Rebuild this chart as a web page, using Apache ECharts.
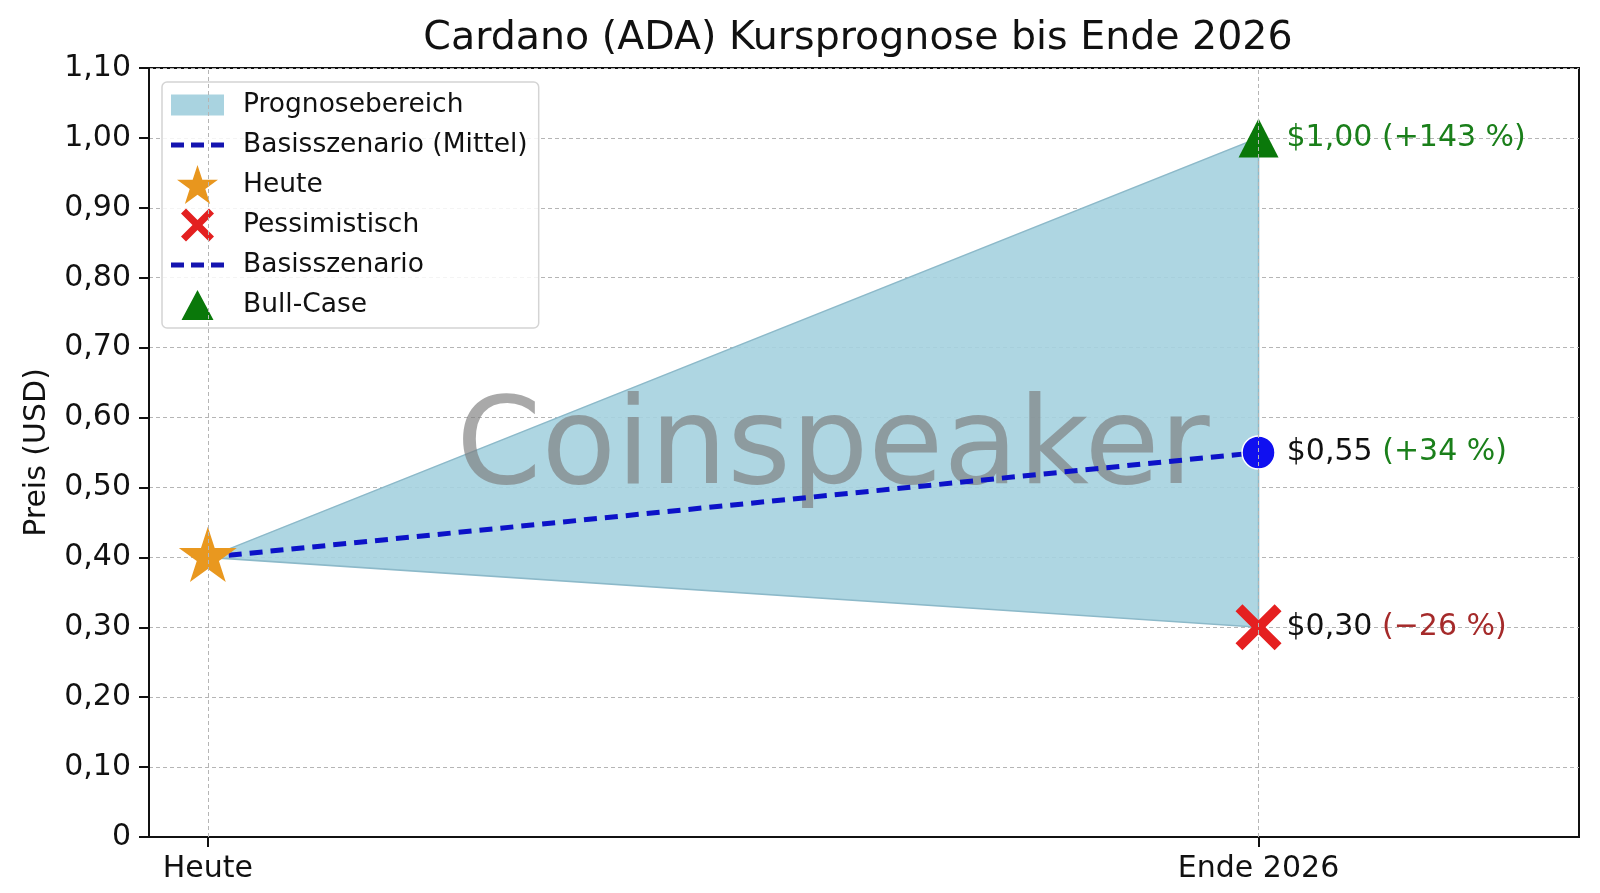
<!DOCTYPE html>
<html>
<head>
<meta charset="utf-8">
<title>Cardano (ADA) Kursprognose bis Ende 2026</title>
<script src="https://cdn.jsdelivr.net/npm/echarts@6/dist/echarts.min.js"></script>
<style>
  html, body { margin: 0; padding: 0; background: #fff; }
  #main { width: 1600px; height: 893px; }
</style>
</head>
<body>
<div id="main"></div>
<script>
// data
const categories = ['Heute', 'Ende 2026'];
const rangeLow = [0.40, 0.30];
const rangeHigh = [0.40, 1.00];
const baseCase = [0.40, 0.55];
const todayPrice = 0.40;
const scenarioNames = ['Pessimistisch', 'Basisszenario', 'Bull-Case'];
const scenarioPrices = [0.30, 0.55, 1.00];
const scenarioChanges = ['−26 %', '+34 %', '+143 %'];

const FONT = 'DejaVu Sans';
const GREEN = '#1a7f1a';

// symbol helpers (shapes only)
function starPath(cx, cy, R) {
  const r = R * 0.382;
  let d = '';
  for (let k = 0; k < 10; k++) {
    const a = (-90 + k * 36) * Math.PI / 180;
    const rad = k % 2 ? r : R;
    d += (k ? 'L' : 'M') + (cx + rad * Math.cos(a)).toFixed(2) + ',' + (cy + rad * Math.sin(a)).toFixed(2);
  }
  return d + 'Z';
}
function crossPath(cx, cy, h, t) {
  const p = [[-h + t, -h], [0, -t], [h - t, -h], [h, -h + t], [t, 0], [h, h - t],
             [h - t, h], [0, t], [-h + t, h], [-h, h - t], [-t, 0], [-h, -h + t]];
  return 'M' + p.map(q => (cx + q[0]).toFixed(2) + ',' + (cy + q[1]).toFixed(2)).join('L') + 'Z';
}
// tiny corner dots fix the bounding box of a path
function box(w, h) {
  return 'M0,0h0.01v0.01h-0.01Z M' + w + ',' + h + 'h-0.01v-0.01h0.01Z ';
}

const LW = 53, LH = 40;
const iconArea = 'path://' + box(LW, LH) + 'M0,9.5h53v21h-53Z';
const iconDash = 'path://' + box(LW, LH) + 'M0,17.5h13v5h-13Z M20,17.5h13v5h-13Z M40,17.5h13v5h-13Z';
const iconStar = 'path://' + box(LW, LH) + starPath(26.5, 21.5, 21.5);
const iconCross = 'path://' + box(LW, LH) + crossPath(26.5, 20, 16.5, 5);
const iconTri = 'path://' + box(LW, LH) + 'M26.5,5L42.5,35L10.5,35Z';

const symStar = 'path://' + 'M50,100h0.01v0.01h-0.01Z ' + starPath(50, 50, 50);
const symCross = 'path://' + crossPath(10, 10, 10, 3);

const priceText = p => '$' + p.toFixed(2).replace('.', ',');

const myChart = echarts.init(document.getElementById('main'));

myChart.setOption({
  animation: false,
  backgroundColor: '#fff',
  textStyle: { fontFamily: FONT },
  title: {
    text: 'Cardano (ADA) Kursprognose bis Ende 2026',
    left: 853,
    top: 14,
    textAlign: 'center',
    textStyle: { fontFamily: FONT, fontSize: 39.5, fontWeight: 'normal', color: '#111' }
  },
  grid: {
    left: 149, right: 21, top: 68, bottom: 56,
    show: true, borderColor: '#111', borderWidth: 2
  },
  legend: {
    orient: 'vertical',
    left: 162, top: 82,
    itemWidth: LW, itemHeight: LH, itemGap: 0,
    padding: [3, 11, 3, 9],
    backgroundColor: 'rgba(255,255,255,0.85)',
    borderColor: '#d4d4d4', borderWidth: 1.5, borderRadius: 5,
    textStyle: { fontFamily: FONT, fontSize: 26.5, color: '#111', padding: [0, 0, 0, 14] },
    selectedMode: false,
    data: [
      { name: 'Prognosebereich', icon: iconArea, itemStyle: { color: '#a9d3e0', borderWidth: 0 } },
      { name: 'Basisszenario (Mittel)', icon: iconDash, itemStyle: { color: '#1414b0', borderWidth: 0 } },
      { name: 'Heute', icon: iconStar, itemStyle: { color: '#E8961E', borderWidth: 0 } },
      { name: 'Pessimistisch', icon: iconCross, itemStyle: { color: '#E32020', borderWidth: 0 } },
      { name: 'Basisszenario', icon: iconDash, itemStyle: { color: '#1414b0', borderWidth: 0 } },
      { name: 'Bull-Case', icon: iconTri, itemStyle: { color: '#0A780A', borderWidth: 0 } }
    ]
  },
  graphic: [{
    type: 'text',
    x: 833, y: 451, z: 2,
    silent: true,
    style: {
      text: 'Coinspeaker',
      font: '122px "DejaVu Sans"',
      fill: 'rgba(125,125,125,0.66)',
      align: 'center',
      verticalAlign: 'middle'
    }
  }],
  xAxis: {
    type: 'value',
    min: -0.056, max: 1.305,
    axisLine: { onZero: false, lineStyle: { color: '#111', width: 2 } },
    axisTick: { customValues: [0, 1], length: 10, lineStyle: { color: '#111', width: 2 } },
    axisLabel: {
      customValues: [0, 1],
      formatter: v => categories[Math.round(v)],
      fontFamily: FONT, fontSize: 30, color: '#111', margin: 17
    },
    splitLine: { show: false }
  },
  yAxis: {
    type: 'value',
    min: 0, max: 1.1, interval: 0.1,
    name: 'Preis (USD)',
    nameLocation: 'middle',
    nameGap: 97,
    nameTextStyle: { fontFamily: FONT, fontSize: 30, color: '#111' },
    axisLine: { show: true, onZero: false, lineStyle: { color: '#111', width: 2 } },
    axisTick: { show: true, length: 10, lineStyle: { color: '#111', width: 2 } },
    axisLabel: {
      formatter: v => v === 0 ? '0' : v.toFixed(2).replace('.', ','),
      fontFamily: FONT, fontSize: 30, color: '#111', margin: 18
    },
    splitLine: { show: true, lineStyle: { color: '#b5b5b5', width: 1, type: [4, 3] } }
  },
  series: [
    {
      type: 'custom',
      name: 'Prognosebereich',
      z: 1,
      itemStyle: { color: '#a9d3e0' },
      data: [[0, rangeLow[0]]],
      renderItem: (params, api) => {
        const pts = [];
        rangeHigh.forEach((v, i) => pts.push(api.coord([i, v])));
        for (let i = rangeLow.length - 1; i >= 0; i--) pts.push(api.coord([i, rangeLow[i]]));
        return {
          type: 'polygon',
          shape: { points: pts },
          style: { fill: 'rgba(165,209,223,0.9)', stroke: '#8cb9c9', lineWidth: 1.5 }
        };
      },
      markLine: {
        silent: true,
        symbol: 'none',
        label: { show: false },
        lineStyle: { color: '#b5b5b5', width: 1, type: [4, 3] },
        data: categories.map((c, i) => ({ xAxis: i }))
      }
    },
    {
      type: 'line',
      name: 'Basisszenario (Mittel)',
      z: 3,
      data: baseCase.map((v, i) => [i, v]),
      symbol: 'none',
      itemStyle: { color: '#0c12c8' },
      lineStyle: { color: '#0c12c8', width: 5, type: [13, 8] }
    },
    {
      type: 'scatter',
      name: 'Heute',
      z: 4,
      data: [[0, todayPrice]],
      symbol: symStar,
      symbolSize: [58, 61],
      itemStyle: { color: '#E9981F', opacity: 1 }
    },
    {
      type: 'scatter',
      name: scenarioNames[0],
      z: 4,
      data: [[1, scenarioPrices[0]]],
      symbol: symCross,
      symbolSize: 46,
      itemStyle: { color: '#E52020', opacity: 1 },
      label: {
        show: true, position: 'right', distance: 5,
        formatter: '{p|' + priceText(scenarioPrices[0]) + ' }{r|(' + scenarioChanges[0] + ')}',
        rich: {
          p: { fontFamily: FONT, fontSize: 30, color: '#111' },
          r: { fontFamily: FONT, fontSize: 30, color: '#a52a2a' }
        }
      }
    },
    {
      type: 'scatter',
      name: scenarioNames[1],
      z: 4,
      data: [[1, scenarioPrices[1]]],
      symbol: 'circle',
      symbolSize: 33,
      itemStyle: { color: '#1010F0', borderColor: '#fff', borderWidth: 1.5, opacity: 1 },
      label: {
        show: true, position: 'right', distance: 11,
        formatter: '{p|' + priceText(scenarioPrices[1]) + ' }{g|(' + scenarioChanges[1] + ')}',
        rich: {
          p: { fontFamily: FONT, fontSize: 30, color: '#111' },
          g: { fontFamily: FONT, fontSize: 30, color: GREEN }
        }
      }
    },
    {
      type: 'scatter',
      name: scenarioNames[2],
      z: 4,
      data: [[1, scenarioPrices[2]]],
      symbol: 'triangle',
      symbolSize: [40, 39],
      itemStyle: { color: '#0A780A', opacity: 1 },
      label: {
        show: true, position: 'right', distance: 8,
        formatter: '{g|' + priceText(scenarioPrices[2]) + ' (' + scenarioChanges[2] + ')}',
        rich: {
          g: { fontFamily: FONT, fontSize: 30, color: GREEN }
        }
      }
    }
  ]
});
</script>
</body>
</html>
